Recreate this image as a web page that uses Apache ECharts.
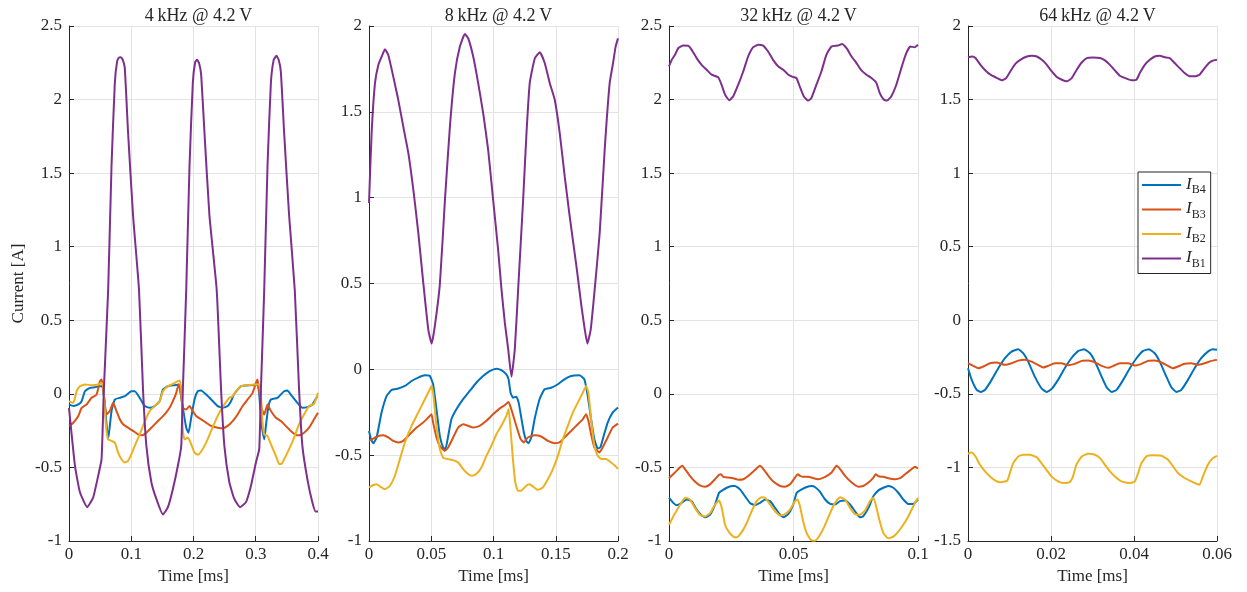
<!DOCTYPE html>
<html>
<head>
<meta charset="utf-8">
<script src="https://cdn.jsdelivr.net/npm/echarts@6/dist/echarts.min.js"></script>
<style>
  html, body { margin: 0; padding: 0; background: #fff; }
  #chart { width: 1247px; height: 592px; }
</style>
</head>
<body>
<div id="chart"></div>
<script>
// Branch currents [A] versus time [ms], one panel per switching frequency.
// Each array holds [time, current] samples.

// ---- 4 kHz ----
const khz4_IB4 = [[0,-0.072],[0.0069,-0.083],[0.0149,-0.072],[0.0203,-0.05],[0.0256,0.018],[0.0336,0.041],[0.0416,0.045],[0.0496,0.052],[0.0533,0.052],[0.0565,-0.027],[0.0603,-0.207],[0.0629,-0.309],[0.0683,-0.117],[0.0736,-0.038],[0.0816,-0.027],[0.0896,-0.016],[0.1003,0.018],[0.1056,0.018],[0.1136,-0.027],[0.1216,-0.083],[0.1296,-0.095],[0.1376,-0.083],[0.1456,-0.05],[0.1509,0.029],[0.1589,0.052],[0.1696,0.059],[0.1765,0.063],[0.1792,0.007],[0.1829,-0.095],[0.1883,-0.23],[0.192,-0.264],[0.1963,-0.162],[0.2016,-0.038],[0.2069,0.018],[0.2123,0.023],[0.2203,-0.005],[0.2283,-0.038],[0.2389,-0.083],[0.2469,-0.095],[0.2549,-0.083],[0.2603,-0.05],[0.2656,0],[0.2709,0.029],[0.2763,0.052],[0.2923,0.059],[0.3029,0.063],[0.3056,-0.005],[0.3093,-0.207],[0.3136,-0.309],[0.3163,-0.218],[0.32,-0.095],[0.3243,-0.038],[0.3349,-0.027],[0.3456,0.018],[0.3509,0.023],[0.3563,-0.005],[0.3669,-0.061],[0.3749,-0.095],[0.3829,-0.09],[0.3909,-0.072],[0.3989,-0.016]];
const khz4_IB3 = [[0,-0.218],[0.0069,-0.196],[0.0149,-0.151],[0.0203,-0.095],[0.0283,-0.072],[0.0363,-0.027],[0.0443,-0.005],[0.0496,0.086],[0.0523,0.097],[0.0549,0.041],[0.0576,-0.072],[0.0603,-0.14],[0.0656,-0.117],[0.0709,-0.061],[0.0763,-0.117],[0.0816,-0.173],[0.0869,-0.207],[0.0949,-0.23],[0.1029,-0.252],[0.1109,-0.275],[0.1173,-0.282],[0.1243,-0.264],[0.1323,-0.23],[0.1429,-0.185],[0.1536,-0.14],[0.1616,-0.095],[0.1669,-0.05],[0.1723,0.007],[0.176,0.063],[0.1792,0.018],[0.1829,-0.095],[0.1883,-0.106],[0.1936,-0.083],[0.1989,-0.117],[0.2043,-0.151],[0.2123,-0.173],[0.2203,-0.196],[0.2283,-0.218],[0.2389,-0.23],[0.2469,-0.234],[0.2549,-0.218],[0.2629,-0.185],[0.2709,-0.14],[0.2789,-0.083],[0.2869,-0.038],[0.2949,0.007],[0.3003,0.074],[0.3029,0.097],[0.3056,0.018],[0.3093,-0.095],[0.3136,-0.14],[0.3189,-0.072],[0.3243,-0.117],[0.3323,-0.162],[0.3403,-0.185],[0.3483,-0.218],[0.3563,-0.252],[0.3643,-0.279],[0.3696,-0.282],[0.3776,-0.264],[0.3856,-0.23],[0.3936,-0.173],[0.4,-0.128]];
const khz4_IB2 = [[0,-0.05],[0.0069,-0.061],[0.0123,0.018],[0.0176,0.052],[0.0256,0.063],[0.0363,0.059],[0.0469,0.063],[0.0523,0.074],[0.0549,0.063],[0.0576,-0.117],[0.0603,-0.252],[0.0629,-0.309],[0.0683,-0.32],[0.0736,-0.331],[0.0789,-0.399],[0.0843,-0.444],[0.0896,-0.466],[0.0949,-0.455],[0.1003,-0.41],[0.1056,-0.354],[0.1136,-0.275],[0.1189,-0.218],[0.1243,-0.162],[0.1296,-0.117],[0.1376,-0.083],[0.1456,-0.05],[0.1509,0.018],[0.1589,0.052],[0.1669,0.068],[0.1749,0.086],[0.1776,0.09],[0.1803,0.041],[0.1829,-0.252],[0.1856,-0.309],[0.1909,-0.297],[0.1963,-0.342],[0.2016,-0.399],[0.2069,-0.414],[0.2123,-0.392],[0.2203,-0.331],[0.2283,-0.252],[0.2363,-0.173],[0.2443,-0.106],[0.2496,-0.072],[0.2576,-0.027],[0.2629,-0.016],[0.2683,0.018],[0.2763,0.052],[0.2869,0.059],[0.2976,0.063],[0.3056,0.063],[0.3083,-0.005],[0.3109,-0.196],[0.3136,-0.275],[0.3189,-0.286],[0.3243,-0.342],[0.3323,-0.421],[0.3376,-0.477],[0.3413,-0.477],[0.3456,-0.444],[0.3536,-0.376],[0.3616,-0.297],[0.3696,-0.207],[0.3776,-0.14],[0.3856,-0.083],[0.3936,-0.068],[0.4,0.007]];
const khz4_IB1 = [[0,-0.095],[0.0096,-0.489],[0.0176,-0.669],[0.0293,-0.77],[0.0389,-0.703],[0.0469,-0.556],[0.0523,-0.444],[0.056,0.029],[0.0629,0.705],[0.0683,1.55],[0.0736,2.113],[0.0773,2.259],[0.0802,2.285],[0.0832,2.288],[0.0864,2.27],[0.0896,2.215],[0.0949,1.775],[0.1029,1.212],[0.1125,0.705],[0.1189,0.029],[0.1243,-0.354],[0.1323,-0.601],[0.1403,-0.714],[0.1509,-0.82],[0.1589,-0.77],[0.1669,-0.646],[0.1749,-0.489],[0.1803,-0.354],[0.1829,0.029],[0.1883,0.705],[0.1936,1.55],[0.1989,2.113],[0.2027,2.255],[0.2059,2.27],[0.2091,2.245],[0.2123,2.17],[0.2176,1.775],[0.2256,1.212],[0.2373,0.705],[0.2443,0.029],[0.2496,-0.354],[0.2576,-0.601],[0.2656,-0.714],[0.2747,-0.77],[0.2843,-0.736],[0.2923,-0.624],[0.3003,-0.466],[0.3056,-0.376],[0.3083,0.029],[0.3136,0.705],[0.3189,1.55],[0.3243,2.113],[0.3288,2.27],[0.3333,2.297],[0.3368,2.27],[0.3403,2.19],[0.3456,1.775],[0.3536,1.212],[0.3627,0.705],[0.3696,0.029],[0.3749,-0.354],[0.3829,-0.579],[0.3909,-0.736],[0.3963,-0.8],[0.4,-0.8]];

// ---- 8 kHz ----
const khz8_IB4 = [[0,-0.359],[0.0016,-0.407],[0.0035,-0.43],[0.0061,-0.397],[0.0101,-0.252],[0.0142,-0.155],[0.0182,-0.12],[0.0235,-0.112],[0.0288,-0.097],[0.0342,-0.068],[0.0395,-0.048],[0.0449,-0.035],[0.0489,-0.039],[0.0515,-0.087],[0.0542,-0.233],[0.0569,-0.388],[0.0595,-0.455],[0.0614,-0.465],[0.0636,-0.388],[0.0662,-0.291],[0.0702,-0.233],[0.0756,-0.174],[0.0809,-0.126],[0.0862,-0.078],[0.0916,-0.039],[0.0969,-0.01],[0.1023,0.004],[0.1063,-0.004],[0.1103,-0.029],[0.1121,-0.058],[0.1137,-0.136],[0.1156,-0.165],[0.1183,-0.159],[0.1202,-0.194],[0.1223,-0.281],[0.1244,-0.368],[0.1263,-0.417],[0.1282,-0.43],[0.1303,-0.397],[0.133,-0.291],[0.137,-0.174],[0.141,-0.116],[0.1463,-0.107],[0.1517,-0.087],[0.157,-0.058],[0.1623,-0.039],[0.169,-0.035],[0.173,-0.058],[0.1757,-0.155],[0.1784,-0.291],[0.181,-0.407],[0.1837,-0.461],[0.1858,-0.455],[0.1885,-0.388],[0.1917,-0.31],[0.1957,-0.252],[0.2,-0.223]];
const khz8_IB3 = [[0,-0.417],[0.0035,-0.403],[0.0075,-0.388],[0.0115,-0.384],[0.0155,-0.397],[0.0195,-0.417],[0.0235,-0.426],[0.0275,-0.417],[0.0328,-0.378],[0.0382,-0.339],[0.0435,-0.31],[0.0475,-0.281],[0.0502,-0.262],[0.0515,-0.31],[0.0542,-0.397],[0.0569,-0.446],[0.0609,-0.475],[0.0636,-0.455],[0.0676,-0.397],[0.0716,-0.339],[0.0756,-0.32],[0.0796,-0.329],[0.0836,-0.339],[0.0889,-0.329],[0.0943,-0.3],[0.0996,-0.262],[0.1049,-0.229],[0.1089,-0.209],[0.1121,-0.19],[0.1143,-0.233],[0.1183,-0.329],[0.1218,-0.407],[0.1244,-0.426],[0.1276,-0.397],[0.133,-0.384],[0.1383,-0.391],[0.1437,-0.417],[0.149,-0.43],[0.153,-0.426],[0.157,-0.397],[0.1623,-0.359],[0.1677,-0.32],[0.1717,-0.291],[0.1744,-0.262],[0.1762,-0.3],[0.1784,-0.378],[0.181,-0.455],[0.185,-0.484],[0.1877,-0.455],[0.1917,-0.397],[0.1957,-0.339],[0.2,-0.316]];
const khz8_IB2 = [[0,-0.688],[0.0035,-0.674],[0.0061,-0.669],[0.0088,-0.682],[0.0128,-0.698],[0.0168,-0.678],[0.0208,-0.62],[0.0248,-0.523],[0.0288,-0.426],[0.0342,-0.329],[0.0395,-0.252],[0.0449,-0.174],[0.0489,-0.116],[0.0502,-0.097],[0.0515,-0.136],[0.0542,-0.329],[0.0569,-0.465],[0.0595,-0.514],[0.0636,-0.523],[0.0676,-0.529],[0.0716,-0.543],[0.0756,-0.581],[0.0796,-0.61],[0.0828,-0.62],[0.0862,-0.61],[0.0903,-0.572],[0.0943,-0.504],[0.0983,-0.446],[0.1023,-0.378],[0.1063,-0.329],[0.1103,-0.271],[0.1121,-0.233],[0.1135,-0.329],[0.1156,-0.523],[0.1175,-0.659],[0.1196,-0.707],[0.1223,-0.707],[0.1263,-0.678],[0.129,-0.669],[0.1316,-0.682],[0.1356,-0.702],[0.1396,-0.688],[0.1437,-0.64],[0.1477,-0.581],[0.1517,-0.504],[0.1557,-0.407],[0.1597,-0.329],[0.1637,-0.252],[0.1677,-0.194],[0.1717,-0.136],[0.1744,-0.097],[0.1762,-0.136],[0.1784,-0.291],[0.181,-0.446],[0.1837,-0.504],[0.1869,-0.523],[0.1904,-0.523],[0.1944,-0.543],[0.1976,-0.562],[0.2,-0.58]];
const khz8_IB1 = [[0,0.969],[0.0021,1.376],[0.0048,1.667],[0.0075,1.773],[0.0102,1.822],[0.0128,1.864],[0.0155,1.831],[0.0195,1.705],[0.0235,1.57],[0.0275,1.415],[0.0316,1.26],[0.0356,1.047],[0.0396,0.795],[0.0436,0.504],[0.0476,0.233],[0.0503,0.15],[0.0529,0.253],[0.057,0.504],[0.061,0.988],[0.065,1.415],[0.069,1.725],[0.073,1.88],[0.077,1.953],[0.0797,1.928],[0.0837,1.822],[0.0877,1.667],[0.0917,1.492],[0.0957,1.279],[0.0997,0.988],[0.1037,0.698],[0.1064,0.467],[0.1091,0.272],[0.1118,0.117],[0.1144,-0.043],[0.1171,0.117],[0.1198,0.467],[0.1238,0.988],[0.1265,1.376],[0.1291,1.667],[0.1332,1.812],[0.1372,1.847],[0.1412,1.783],[0.1452,1.667],[0.1492,1.57],[0.1532,1.376],[0.1572,1.124],[0.1612,0.891],[0.1666,0.601],[0.1706,0.37],[0.1733,0.233],[0.1754,0.15],[0.1781,0.233],[0.1813,0.467],[0.1853,0.795],[0.1893,1.279],[0.1933,1.667],[0.196,1.783],[0.1981,1.88],[0.2,1.928]];

// ---- 32 kHz ----
const khz32_IB4 = [[0,-0.706],[0.0017,-0.741],[0.0031,-0.757],[0.0051,-0.741],[0.0071,-0.718],[0.0091,-0.729],[0.0111,-0.787],[0.0131,-0.826],[0.0147,-0.839],[0.0165,-0.821],[0.0185,-0.752],[0.0201,-0.672],[0.0214,-0.656],[0.0232,-0.638],[0.0252,-0.626],[0.0265,-0.626],[0.0285,-0.649],[0.0305,-0.695],[0.0325,-0.741],[0.0345,-0.757],[0.0365,-0.741],[0.0386,-0.718],[0.0406,-0.729],[0.0426,-0.775],[0.0446,-0.821],[0.0459,-0.839],[0.0479,-0.817],[0.0499,-0.752],[0.0513,-0.672],[0.0533,-0.649],[0.0553,-0.633],[0.0573,-0.626],[0.0586,-0.633],[0.0606,-0.665],[0.0627,-0.718],[0.0647,-0.748],[0.0667,-0.752],[0.0687,-0.729],[0.0707,-0.725],[0.0727,-0.752],[0.0747,-0.798],[0.0767,-0.839],[0.078,-0.832],[0.0801,-0.775],[0.0821,-0.695],[0.0841,-0.656],[0.0861,-0.638],[0.0881,-0.626],[0.0901,-0.638],[0.0921,-0.672],[0.0941,-0.718],[0.0961,-0.748],[0.0981,-0.748],[0.1,-0.718]];
const khz32_IB3 = [[0,-0.573],[0.0024,-0.534],[0.0044,-0.5],[0.0054,-0.489],[0.0064,-0.511],[0.0084,-0.557],[0.0104,-0.596],[0.0124,-0.622],[0.0145,-0.631],[0.0165,-0.615],[0.0185,-0.58],[0.0201,-0.55],[0.0209,-0.546],[0.0218,-0.564],[0.0238,-0.569],[0.0258,-0.573],[0.0278,-0.583],[0.0299,-0.58],[0.0319,-0.557],[0.0345,-0.518],[0.0365,-0.489],[0.0379,-0.511],[0.0399,-0.557],[0.0419,-0.596],[0.0446,-0.626],[0.0466,-0.631],[0.0486,-0.615],[0.0506,-0.569],[0.0517,-0.546],[0.0526,-0.557],[0.0539,-0.564],[0.056,-0.564],[0.058,-0.573],[0.06,-0.58],[0.0627,-0.564],[0.0653,-0.534],[0.0673,-0.489],[0.0687,-0.511],[0.0707,-0.557],[0.0734,-0.603],[0.076,-0.631],[0.078,-0.626],[0.0801,-0.603],[0.0821,-0.569],[0.083,-0.546],[0.0841,-0.56],[0.0861,-0.564],[0.0881,-0.573],[0.0908,-0.58],[0.0928,-0.573],[0.0948,-0.546],[0.0975,-0.511],[0.0988,-0.495],[0.1,-0.507]];
const khz32_IB2 = [[0,-0.89],[0.0017,-0.833],[0.0037,-0.775],[0.0058,-0.718],[0.0067,-0.706],[0.0084,-0.718],[0.0104,-0.775],[0.0124,-0.821],[0.0145,-0.833],[0.0165,-0.81],[0.0185,-0.752],[0.0201,-0.725],[0.0212,-0.775],[0.0225,-0.89],[0.0241,-0.94],[0.0258,-0.97],[0.0272,-0.975],[0.0292,-0.94],[0.0312,-0.878],[0.0332,-0.798],[0.0352,-0.729],[0.0372,-0.702],[0.0386,-0.706],[0.0406,-0.752],[0.0426,-0.798],[0.0446,-0.826],[0.0466,-0.817],[0.0486,-0.787],[0.0506,-0.729],[0.0517,-0.718],[0.0526,-0.764],[0.0539,-0.867],[0.0553,-0.947],[0.057,-0.993],[0.0586,-0.998],[0.0606,-0.959],[0.0627,-0.89],[0.0647,-0.81],[0.0667,-0.741],[0.0687,-0.702],[0.0707,-0.718],[0.0727,-0.775],[0.0747,-0.817],[0.0767,-0.821],[0.0787,-0.794],[0.0807,-0.729],[0.0821,-0.706],[0.083,-0.752],[0.0843,-0.844],[0.0861,-0.947],[0.0881,-0.982],[0.0901,-0.97],[0.0921,-0.936],[0.0941,-0.89],[0.0961,-0.833],[0.0981,-0.764],[0.1,-0.706]];
const khz32_IB1 = [[0,2.225],[0.0011,2.27],[0.0024,2.304],[0.0037,2.349],[0.0057,2.367],[0.0078,2.365],[0.0091,2.338],[0.0111,2.282],[0.0131,2.236],[0.0151,2.203],[0.0171,2.169],[0.0198,2.151],[0.0211,2.101],[0.0225,2.034],[0.0242,1.995],[0.0258,2.023],[0.0278,2.101],[0.0298,2.191],[0.0318,2.293],[0.0338,2.356],[0.0358,2.372],[0.0378,2.367],[0.0398,2.327],[0.0418,2.27],[0.0439,2.225],[0.0459,2.203],[0.0479,2.169],[0.0499,2.153],[0.0512,2.146],[0.0525,2.09],[0.0541,2.023],[0.0559,1.993],[0.0572,2.011],[0.0592,2.101],[0.0612,2.191],[0.0632,2.304],[0.0652,2.36],[0.0679,2.367],[0.0695,2.378],[0.0713,2.349],[0.0733,2.293],[0.0753,2.248],[0.0773,2.198],[0.0793,2.169],[0.0813,2.146],[0.0833,2.113],[0.0846,2.045],[0.0862,2],[0.0876,1.993],[0.0893,2.023],[0.0913,2.101],[0.0933,2.214],[0.0953,2.315],[0.0969,2.36],[0.0987,2.356],[0.1,2.372]];

// ---- 64 kHz ----
const khz64_IB4 = [[0,-0.326],[0.0009,-0.405],[0.0021,-0.473],[0.0031,-0.487],[0.0041,-0.473],[0.0057,-0.405],[0.0073,-0.326],[0.0089,-0.258],[0.0105,-0.213],[0.0121,-0.197],[0.0133,-0.224],[0.0145,-0.281],[0.0161,-0.383],[0.0177,-0.462],[0.0189,-0.487],[0.0201,-0.468],[0.0217,-0.405],[0.0233,-0.326],[0.0249,-0.258],[0.0266,-0.208],[0.028,-0.197],[0.0294,-0.224],[0.0306,-0.281],[0.0322,-0.383],[0.0334,-0.455],[0.0346,-0.487],[0.0358,-0.473],[0.0374,-0.405],[0.039,-0.326],[0.0406,-0.258],[0.0422,-0.208],[0.0436,-0.197],[0.045,-0.224],[0.0462,-0.281],[0.0478,-0.383],[0.049,-0.455],[0.0502,-0.487],[0.0514,-0.473],[0.053,-0.405],[0.0546,-0.326],[0.0562,-0.258],[0.0578,-0.213],[0.059,-0.197],[0.06,-0.201]];
const khz64_IB3 = [[0,-0.292],[0.0013,-0.31],[0.0025,-0.326],[0.0037,-0.314],[0.0053,-0.292],[0.0069,-0.287],[0.0089,-0.303],[0.0105,-0.292],[0.0121,-0.274],[0.0137,-0.269],[0.0153,-0.281],[0.0169,-0.303],[0.0181,-0.321],[0.0193,-0.31],[0.0209,-0.292],[0.0225,-0.292],[0.0241,-0.305],[0.0257,-0.296],[0.0274,-0.276],[0.029,-0.274],[0.0306,-0.287],[0.0322,-0.31],[0.0338,-0.323],[0.035,-0.31],[0.0366,-0.292],[0.0386,-0.292],[0.0402,-0.308],[0.0418,-0.296],[0.0434,-0.276],[0.045,-0.274],[0.0466,-0.287],[0.0482,-0.31],[0.0494,-0.326],[0.0506,-0.314],[0.0522,-0.296],[0.0538,-0.292],[0.0554,-0.303],[0.057,-0.292],[0.0586,-0.276],[0.06,-0.269]];
const khz64_IB2 = [[0,-0.907],[0.0009,-0.898],[0.0017,-0.921],[0.0029,-0.982],[0.0041,-1.027],[0.0053,-1.061],[0.0065,-1.088],[0.0077,-1.1],[0.0089,-1.095],[0.0095,-1.088],[0.0101,-1.038],[0.0109,-0.971],[0.0121,-0.925],[0.0133,-0.914],[0.0149,-0.914],[0.0165,-0.93],[0.0177,-0.971],[0.0189,-1.016],[0.0201,-1.061],[0.0213,-1.088],[0.0229,-1.106],[0.0245,-1.1],[0.0253,-1.061],[0.0261,-0.982],[0.0274,-0.925],[0.029,-0.907],[0.0306,-0.914],[0.0318,-0.937],[0.033,-0.982],[0.0342,-1.027],[0.0354,-1.061],[0.037,-1.095],[0.039,-1.106],[0.0402,-1.095],[0.041,-1.038],[0.0418,-0.971],[0.043,-0.925],[0.0446,-0.918],[0.0466,-0.921],[0.0482,-0.948],[0.0494,-0.993],[0.0506,-1.038],[0.0522,-1.072],[0.0538,-1.095],[0.055,-1.111],[0.0558,-1.118],[0.0566,-1.061],[0.0578,-0.982],[0.059,-0.937],[0.06,-0.921]];
const khz64_IB1 = [[0,1.788],[0.001,1.793],[0.0018,1.782],[0.003,1.736],[0.0042,1.698],[0.0054,1.669],[0.007,1.646],[0.0082,1.631],[0.0092,1.646],[0.0102,1.691],[0.0114,1.743],[0.0126,1.77],[0.0142,1.793],[0.0154,1.797],[0.0166,1.793],[0.0178,1.77],[0.019,1.736],[0.0202,1.691],[0.0214,1.653],[0.0226,1.635],[0.0238,1.624],[0.025,1.646],[0.0262,1.703],[0.0274,1.752],[0.0286,1.782],[0.0302,1.786],[0.0318,1.782],[0.033,1.766],[0.0342,1.736],[0.0354,1.698],[0.0366,1.662],[0.0382,1.642],[0.0394,1.631],[0.0406,1.635],[0.0414,1.68],[0.0426,1.736],[0.0438,1.77],[0.045,1.793],[0.0462,1.797],[0.0474,1.788],[0.0486,1.782],[0.0498,1.748],[0.051,1.714],[0.0522,1.68],[0.0534,1.658],[0.0546,1.658],[0.0558,1.669],[0.057,1.714],[0.0582,1.752],[0.0592,1.766],[0.06,1.77]];

const seriesNames = ['I_B4', 'I_B3', 'I_B2', 'I_B1'];
const panelTitles = ['4\u2009kHz @ 4.2\u2009V', '8\u2009kHz @ 4.2\u2009V', '32\u2009kHz @ 4.2\u2009V', '64\u2009kHz @ 4.2\u2009V'];
const xMaxes = [0.4, 0.2, 0.1, 0.06];
const xSteps = [0.1, 0.05, 0.05, 0.02];
const yMins = [-1, -1, -1, -1.5];
const yMaxes = [2.5, 2, 2.5, 2];
const panelData = [
  [khz4_IB4, khz4_IB3, khz4_IB2, khz4_IB1],
  [khz8_IB4, khz8_IB3, khz8_IB2, khz8_IB1],
  [khz32_IB4, khz32_IB3, khz32_IB2, khz32_IB1],
  [khz64_IB4, khz64_IB3, khz64_IB2, khz64_IB1]
];

// MATLAB default line colours
const colors = ['#0072BD', '#D95319', '#EDB120', '#7E2F8E'];
const FONT = '"Liberation Serif", "DejaVu Serif", serif';
const TEXT = '#262626';
const gridLefts = [69, 369, 669, 968];
const fmt = v => String(+v.toFixed(4));

const grids = [], xAxes = [], yAxes = [], series = [], titles = [];
for (let p = 0; p < 4; p++) {
  grids.push({ left: gridLefts[p], top: 26, width: 249, height: 515 });
  titles.push({
    text: panelTitles[p],
    left: gridLefts[p] + 124.5, top: 2, textAlign: 'center',
    textStyle: { fontFamily: FONT, fontSize: 18, fontWeight: 'normal', color: TEXT }
  });
  xAxes.push({
    type: 'value', gridIndex: p, min: 0, max: xMaxes[p], interval: xSteps[p],
    name: 'Time [ms]', nameLocation: 'middle', nameGap: 26,
    nameTextStyle: { fontFamily: FONT, fontSize: 17, color: TEXT },
    axisLine: { onZero: false, lineStyle: { color: TEXT, width: 1 } },
    axisTick: { inside: true, length: 5, lineStyle: { color: TEXT } },
    axisLabel: { fontFamily: FONT, fontSize: 17, color: TEXT, margin: 5, formatter: fmt, showMinLabel: true, showMaxLabel: true },
    splitLine: { show: true, lineStyle: { color: '#e3e3e3', width: 1 } }
  });
  yAxes.push({
    type: 'value', gridIndex: p, min: yMins[p], max: yMaxes[p], interval: 0.5,
    name: p === 0 ? 'Current [A]' : '', nameLocation: 'middle', nameGap: 42,
    nameTextStyle: { fontFamily: FONT, fontSize: 17, color: TEXT },
    axisLine: { show: true, lineStyle: { color: TEXT, width: 1 } },
    axisTick: { show: true, inside: true, length: 5, lineStyle: { color: TEXT } },
    axisLabel: { fontFamily: FONT, fontSize: 17, color: TEXT, margin: 7, formatter: fmt, showMinLabel: true, showMaxLabel: true },
    splitLine: { show: true, lineStyle: { color: '#e3e3e3', width: 1 } }
  });
  for (let s = 0; s < 4; s++) {
    series.push({
      type: 'line', name: seriesNames[s], xAxisIndex: p, yAxisIndex: p,
      data: panelData[p][s], symbol: 'none', smooth: 0.15,
      lineStyle: { color: colors[s], width: 2 }, itemStyle: { color: colors[s] },
      z: 2 + s
    });
  }
}

const chart = echarts.init(document.getElementById('chart'), null, { renderer: 'canvas' });
chart.setOption({
  animation: false,
  backgroundColor: '#ffffff',
  title: titles,
  grid: grids,
  xAxis: xAxes,
  yAxis: yAxes,
  series: series,
  legend: {
    data: seriesNames, orient: 'vertical',
    left: 1138, top: 172, width: 75,
    padding: [4, 5, 4, 4], itemGap: 4.5,
    itemWidth: 39, itemHeight: 2, icon: 'rect',
    backgroundColor: '#ffffff', borderColor: '#262626', borderWidth: 1,
    formatter: name => '{i|I}{s|' + name.slice(2) + '}',
    textStyle: {
      color: TEXT,
      rich: {
        i: { fontFamily: FONT, fontSize: 17, fontStyle: 'italic', color: TEXT, lineHeight: 18, verticalAlign: 'top' },
        s: { fontFamily: FONT, fontSize: 12, color: TEXT, lineHeight: 10, padding: [8, 0, 0, 0], verticalAlign: 'top' }
      }
    }
  }
});
</script>
</body>
</html>
